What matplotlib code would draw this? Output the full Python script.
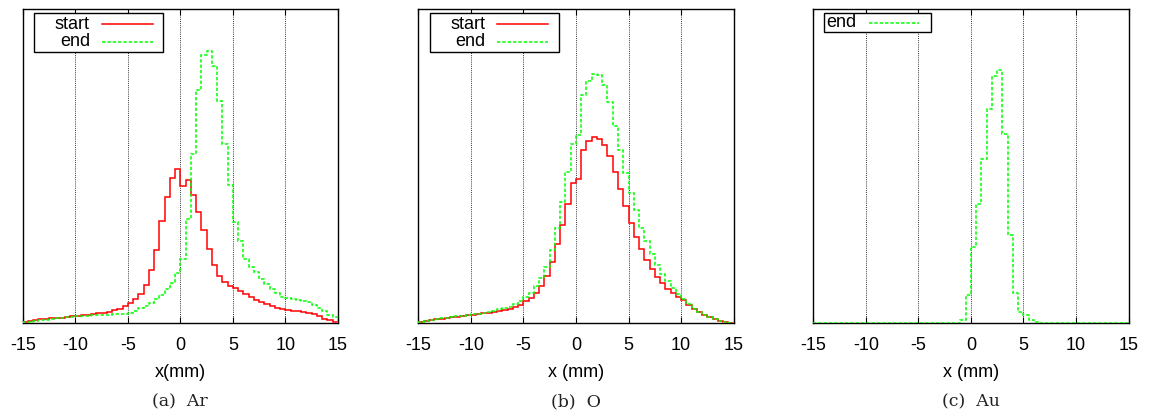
import numpy as np
import matplotlib.pyplot as plt
from matplotlib.lines import Line2D
from matplotlib.patches import Rectangle

plt.rcParams['font.family'] = ['Liberation Sans', 'DejaVu Sans']

# 60 bins of 0.5 mm between -15 and 15 mm (counts, arbitrary units)
x_lo, x_hi, bin_w = -15.0, 15.0, 0.5

ar_start = [2, 6, 9, 11, 13, 14, 15, 16, 18, 20, 22, 23, 25, 27, 29,
            31, 34, 38, 43, 51, 61, 71, 87, 115, 159, 218, 305, 377, 435, 462,
            410, 428, 383, 333, 278, 221, 173, 140, 123, 111, 105, 96, 86, 77, 70,
            63, 56, 50, 46, 43, 38, 36, 36, 33, 30, 27, 21, 13, 8, 3]
ar_end = [2, 4, 6, 8, 10, 12, 14, 15, 17, 18, 20, 21, 22, 23, 24,
          25, 25, 26, 27, 28, 31, 37, 44, 51, 60, 72, 85, 102, 120, 150,
          193, 313, 508, 698, 805, 815, 770, 666, 537, 413, 303, 246, 191, 168, 153,
          133, 116, 103, 90, 78, 75, 71, 68, 67, 63, 53, 45, 35, 25, 18]

o_start = [2, 6, 9, 11, 13, 15, 17, 19, 21, 23, 25, 27, 29, 31, 34,
           37, 40, 43, 48, 53, 66, 75, 90, 110, 140, 183, 236, 293, 358, 421,
           433, 520, 546, 558, 552, 533, 500, 452, 403, 350, 300, 258, 221, 188, 161,
           138, 120, 103, 90, 78, 68, 55, 43, 33, 25, 18, 11, 6, 3, 1]
o_end = [4, 7, 9, 11, 14, 16, 18, 20, 22, 24, 26, 28, 31, 34, 37,
         41, 44, 49, 58, 66, 78, 90, 110, 134, 168, 220, 286, 363, 453, 538,
         563, 685, 726, 748, 745, 713, 663, 591, 518, 450, 391, 340, 286, 245, 206,
         175, 148, 126, 105, 88, 72, 58, 43, 33, 25, 18, 11, 6, 2, 1]

au_end = [0, 0, 0, 0, 0, 0, 0, 0, 0, 0, 0, 0, 0, 0, 0,
          0, 0, 0, 0, 0, 0, 0, 0, 0, 0, 0, 0, 0, 8, 83,
          227, 357, 492, 641, 740, 758, 568, 265, 90, 33, 23, 10, 3, 0, 0,
          0, 0, 0, 0, 0, 0, 0, 0, 0, 0, 0, 0, 0, 0, 0]

xticks = [-15, -10, -5, 0, 5, 10, 15]
xlabels = ['x(mm)', 'x (mm)', 'x (mm)']
captions = ['(a)  Ar', '(b)  O', '(c)  Au']

red = '#ff0000'
green = '#00ff00'
dash = (0, (2.2, 1.3))

edges = np.arange(x_lo, x_hi + bin_w / 2, bin_w)


def draw_key(ax, entries, box, text_x, ha, line_x, rows_y):
    # gnuplot style key: boxed, text then a line sample
    ax.add_patch(Rectangle((box[0], box[1]), box[2] - box[0], box[3] - box[1],
                           transform=ax.transAxes, facecolor='white',
                           edgecolor='black', lw=1.0, zorder=5))
    for (label, color, ls), y in zip(entries, rows_y):
        ax.text(text_x, y, label, transform=ax.transAxes, ha=ha, va='center',
                fontsize=13, zorder=6)
        ax.add_line(Line2D(line_x, [y, y], transform=ax.transAxes, color=color,
                           ls=ls, lw=1.1, zorder=6))


fig = plt.figure(figsize=(11.52, 4.18), dpi=100)

lefts = [22.7, 418.3, 813.3]
axes = []
for i, left in enumerate(lefts):
    ax = fig.add_axes([left / 1152, (418 - 323.0) / 418, 315.3 / 1152, 313.8 / 418])
    axes.append(ax)
    ax.set_xlim(x_lo, x_hi)
    ax.set_ylim(0, 941)
    ax.set_xticks(xticks)
    ax.set_xticklabels([str(t) for t in xticks])
    ax.set_yticks([])
    ax.tick_params(axis='x', direction='in', top=True, length=4, width=0.8,
                   labelsize=13, pad=10)
    for sp in ax.spines.values():
        sp.set_linewidth(1.0)
    for t in xticks[1:-1]:
        ax.axvline(t, color='0.2', lw=0.7, ls=(0, (1, 1.2)), zorder=1)
    ax.set_xlabel(xlabels[i], fontsize=13, labelpad=7)
    cx = (left + 315.3 / 2) / 1152
    fig.text(cx, 0.039, captions[i], ha='center', va='center', fontsize=12.5,
             family='DejaVu Serif', color='#222222')

ax_a, ax_b, ax_c = axes

ax_a.stairs(ar_start, edges, color=red, lw=1.1, zorder=3)
ax_a.stairs(ar_end, edges, color=green, lw=1.1, ls=dash, zorder=3)
ax_b.stairs(o_start, edges, color=red, lw=1.1, zorder=3)
ax_b.stairs(o_end, edges, color=green, lw=1.1, ls=dash, zorder=3)
ax_c.stairs(au_end, edges, color=green, lw=1.1, ls=dash, zorder=3)

two_rows = [('start', red, '-'), ('end', green, dash)]
for ax in (ax_a, ax_b):
    draw_key(ax, two_rows, (0.0368, 0.865, 0.4455, 0.987), 0.2132, 'right',
             [0.2503, 0.4119], [0.9525, 0.8962])
draw_key(ax_c, [('end', green, dash)], (0.035, 0.927, 0.3727, 0.987), 0.0425, 'left',
         [0.1778, 0.3365], [0.957])

fig.savefig('out.png', dpi=100)
